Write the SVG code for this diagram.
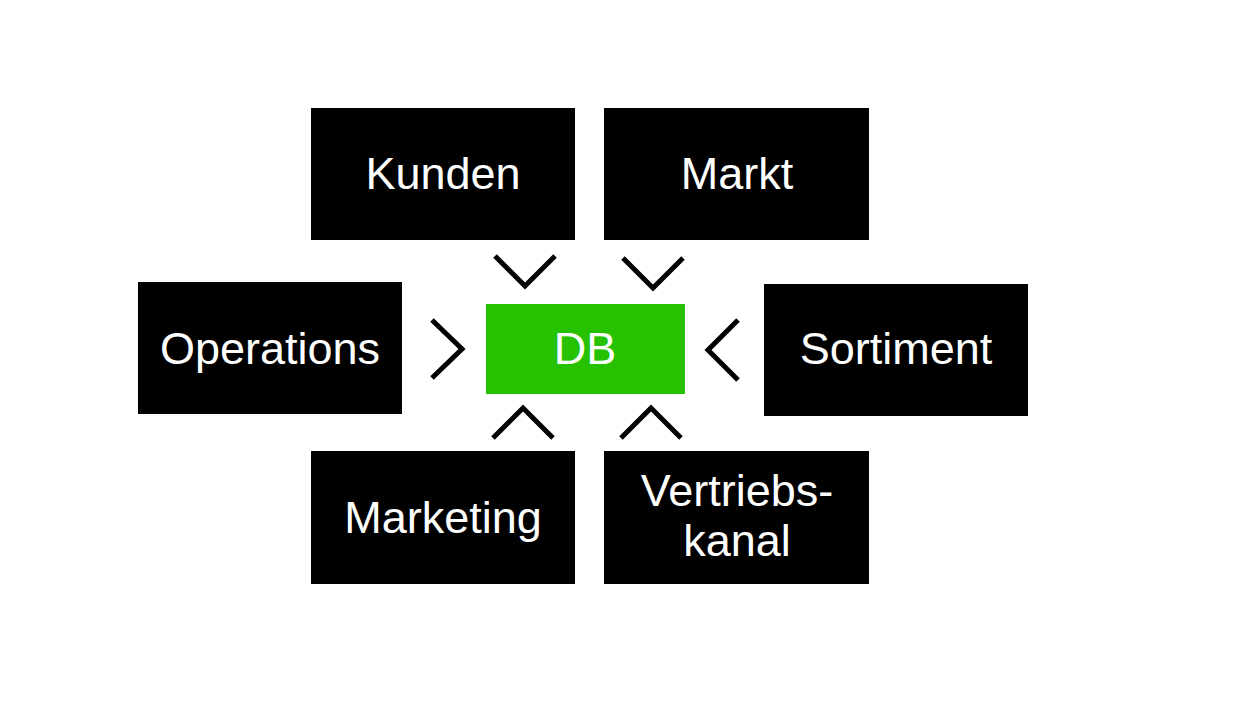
<svg xmlns="http://www.w3.org/2000/svg" width="1260" height="705" viewBox="0 0 1260 705">
<style>
.box{fill:#000}
.db{fill:#26c100}
.t{fill:#fff;font-family:"Liberation Sans",Arial,sans-serif;font-size:45px;text-anchor:middle}
.ch{fill:none;stroke:#000;stroke-width:5;stroke-linecap:butt;stroke-linejoin:miter}
</style>
<rect width="1260" height="705" fill="#fff"/>
<g id="kunden"><rect class="box" x="311" y="108" width="264" height="132"/><text class="t" x="443" y="189">Kunden</text></g>
<g id="markt"><rect class="box" x="604" y="108" width="265" height="132"/><text class="t" x="737" y="189">Markt</text></g>
<g id="operations"><rect class="box" x="138" y="282" width="264" height="132"/><text class="t" x="270" y="364">Operations</text></g>
<g id="db"><rect class="db" x="486" y="304" width="199" height="90"/><text class="t" x="585" y="364">DB</text></g>
<g id="sortiment"><rect class="box" x="764" y="284" width="264" height="132"/><text class="t" x="896" y="364">Sortiment</text></g>
<g id="marketing"><rect class="box" x="311" y="451" width="264" height="133"/><text class="t" x="443" y="533">Marketing</text></g>
<g id="vertriebskanal"><rect class="box" x="604" y="451" width="265" height="133"/><text class="t" x="737" y="506">Vertriebs-</text><text class="t" x="737" y="556">kanal</text></g>
<g id="connectors">
<polyline class="ch" points="495,256 525,286 555,256"/>
<polyline class="ch" points="623,258 653,288 683,258"/>
<polyline class="ch" points="432,320 462,349 432,378"/>
<polyline class="ch" points="738,320 708,350 738,380"/>
<polyline class="ch" points="493,438 523,408 553,438"/>
<polyline class="ch" points="621,438 651,408 681,438"/>
</g>
</svg>
